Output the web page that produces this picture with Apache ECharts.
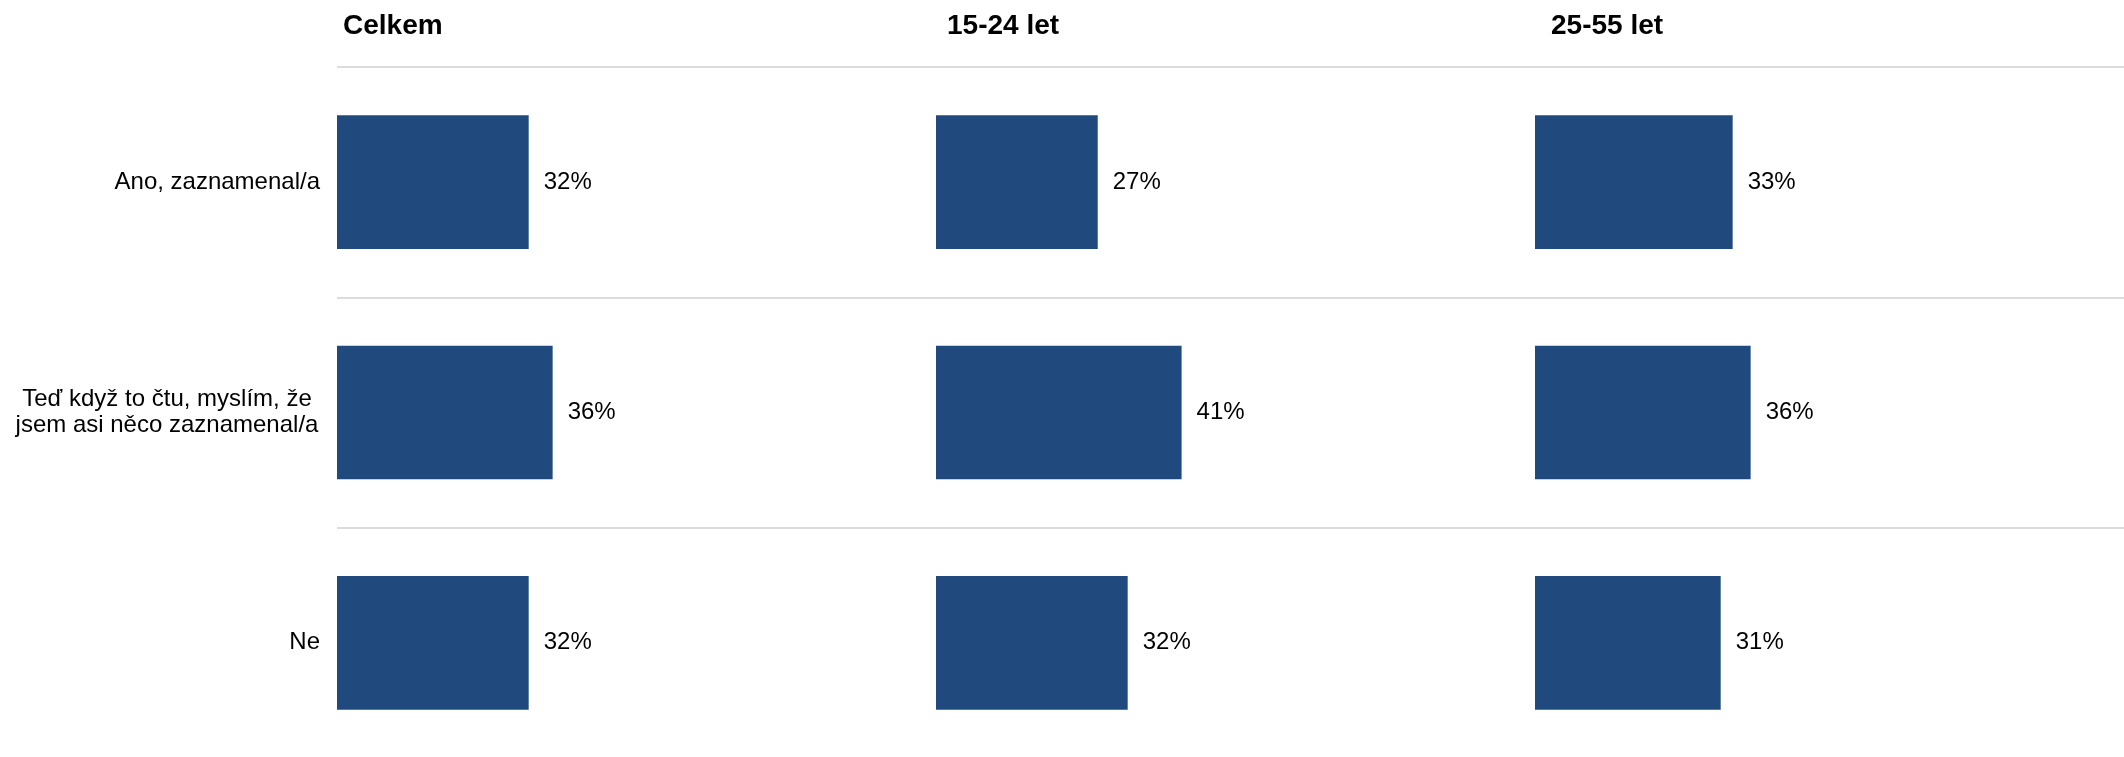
<!DOCTYPE html>
<html>
<head>
<meta charset="utf-8">
<script src="https://cdn.jsdelivr.net/npm/echarts@6/dist/echarts.min.js"></script>
<style>
html,body{margin:0;padding:0;background:#fff;}
#chart{width:2124px;height:757px;}
</style>
</head>
<body>
<div id="chart"></div>
<script>
const categories = ['Ano, zaznamenal/a', 'Teď když to čtu, myslím, že\njsem asi něco zaznamenal/a', 'Ne'];
const groups = ['Celkem', '15-24 let', '25-55 let'];
const celkem = [32, 36, 32];
const age1524 = [27, 41, 32];
const age2555 = [33, 36, 31];
const seriesValues = [celkem, age1524, age2555];

const FONT = "'Liberation Sans', Arial, Helvetica, sans-serif";
const BAR = '#204a7d';
const panelLeft = [337, 936, 1535];
const titleLeft = [343, 947, 1551];
const panelWidth = 599;

const chart = echarts.init(document.getElementById('chart'), null, {renderer: 'canvas'});

const grids = [], xAxes = [], yAxes = [], series = [], titles = [];
groups.forEach((g, i) => {
  titles.push({
    text: g, left: titleLeft[i], top: 12, padding: 0,
    textStyle: {fontFamily: FONT, fontSize: 28, fontWeight: 'bold', color: '#000'}
  });
  grids.push({
    left: panelLeft[i], top: 67, width: panelWidth, height: 691,
    containLabel: false, outerBoundsMode: 'none'
  });
  xAxes.push({
    type: 'value', gridIndex: i, min: 0, max: 100,
    axisLine: {show: false}, axisTick: {show: false}, axisLabel: {show: false}, splitLine: {show: false}
  });
  yAxes.push({
    type: 'category', gridIndex: i, data: categories, inverse: true,
    axisLine: {show: false}, axisTick: {show: false},
    splitLine: {show: true, lineStyle: {color: '#dcdcdc', width: 2}},
    axisLabel: {
      show: i === 0, margin: 17, color: '#000', fontFamily: FONT, fontSize: 24, lineHeight: 26,
      formatter: function (v) {
        if (v.indexOf('\n') >= 0) {
          return v.split('\n').map(s => '{c|' + s + '}').join('\n');
        }
        return v;
      },
      rich: {c: {width: 306, align: 'center', fontFamily: FONT, fontSize: 24, lineHeight: 26, color: '#000'}}
    }
  });
  series.push({
    type: 'bar', xAxisIndex: i, yAxisIndex: i, data: seriesValues[i],
    barCategoryGap: '42%',
    itemStyle: {color: BAR},
    label: {
      show: true, position: 'right', distance: 15, formatter: '{c}%',
      color: '#000', fontFamily: FONT, fontSize: 24
    },
    silent: true
  });
});

chart.setOption({
  animation: false,
  backgroundColor: '#fff',
  title: titles,
  grid: grids,
  xAxis: xAxes,
  yAxis: yAxes,
  series: series
});
</script>
</body>
</html>
